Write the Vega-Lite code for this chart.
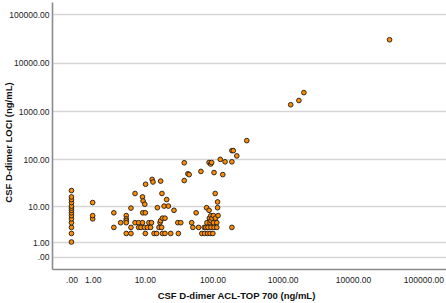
{
  "$schema": "https://vega.github.io/schema/vega-lite/v6.json",
  "width": 394,
  "height": 267,
  "autosize": {"type": "none"},
  "padding": {"left": 52, "top": 2, "right": 0, "bottom": 34},
  "background": "white",
  "config": {"view": {"stroke": null}, "font": "Liberation Sans"},
  "data": {
    "values": [
      {"acl": 0, "loci": 1}, {"acl": 0, "loci": 2}, {"acl": 0, "loci": 3}, {"acl": 0, "loci": 4},
      {"acl": 0, "loci": 5}, {"acl": 0, "loci": 6}, {"acl": 0, "loci": 7}, {"acl": 0, "loci": 8},
      {"acl": 0, "loci": 9}, {"acl": 0, "loci": 10}, {"acl": 0, "loci": 12}, {"acl": 0, "loci": 14},
      {"acl": 0, "loci": 16}, {"acl": 0, "loci": 22},
      {"acl": 1, "loci": 5}, {"acl": 1, "loci": 6}, {"acl": 1, "loci": 12},
      {"acl": 3, "loci": 7}, {"acl": 3, "loci": 3}, {"acl": 4, "loci": 4},
      {"acl": 5, "loci": 6}, {"acl": 5, "loci": 5}, {"acl": 5, "loci": 4.5}, {"acl": 5, "loci": 4}, {"acl": 5, "loci": 2},
      {"acl": 6, "loci": 9}, {"acl": 6, "loci": 3}, {"acl": 6, "loci": 2},
      {"acl": 7, "loci": 19}, {"acl": 7, "loci": 4}, {"acl": 8, "loci": 4}, {"acl": 8, "loci": 3}, {"acl": 8.7, "loci": 3},
      {"acl": 9.2, "loci": 16}, {"acl": 9.4, "loci": 13}, {"acl": 10, "loci": 11}, {"acl": 10.3, "loci": 30},
      {"acl": 9.3, "loci": 7}, {"acl": 10.2, "loci": 7}, {"acl": 9.2, "loci": 4}, {"acl": 9.9, "loci": 3}, {"acl": 10.2, "loci": 2},
      {"acl": 11, "loci": 3}, {"acl": 11.6, "loci": 4}, {"acl": 12.3, "loci": 3}, {"acl": 12.7, "loci": 4},
      {"acl": 13, "loci": 38}, {"acl": 13.4, "loci": 33.5}, {"acl": 13.9, "loci": 2}, {"acl": 15.2, "loci": 2}, {"acl": 15.6, "loci": 9.2},
      {"acl": 16.5, "loci": 3}, {"acl": 17.1, "loci": 4}, {"acl": 17.5, "loci": 4.5}, {"acl": 17.5, "loci": 35}, {"acl": 18.1, "loci": 3},
      {"acl": 18.3, "loci": 19}, {"acl": 18.6, "loci": 5.2}, {"acl": 18.6, "loci": 2},
      {"acl": 19.7, "loci": 10}, {"acl": 20.3, "loci": 5.2}, {"acl": 20.3, "loci": 2}, {"acl": 21.5, "loci": 14}, {"acl": 22.8, "loci": 10},
      {"acl": 24.7, "loci": 2}, {"acl": 27.6, "loci": 8},
      {"acl": 31.4, "loci": 4}, {"acl": 32, "loci": 2}, {"acl": 34.7, "loci": 4}, {"acl": 39, "loci": 36}, {"acl": 39, "loci": 85},
      {"acl": 44, "loci": 50}, {"acl": 46, "loci": 48},
      {"acl": 50, "loci": 4}, {"acl": 52, "loci": 3}, {"acl": 58, "loci": 7}, {"acl": 63, "loci": 3}, {"acl": 68, "loci": 56},
      {"acl": 70, "loci": 2}, {"acl": 76, "loci": 3}, {"acl": 77, "loci": 2}, {"acl": 80, "loci": 3}, {"acl": 82, "loci": 9.2},
      {"acl": 83, "loci": 4}, {"acl": 85, "loci": 2}, {"acl": 86, "loci": 3}, {"acl": 89, "loci": 8}, {"acl": 89, "loci": 86},
      {"acl": 90, "loci": 5.2}, {"acl": 92, "loci": 4}, {"acl": 92, "loci": 2}, {"acl": 94, "loci": 80}, {"acl": 94.5, "loci": 6},
      {"acl": 95, "loci": 3}, {"acl": 95, "loci": 4.5}, {"acl": 97, "loci": 86}, {"acl": 98, "loci": 5.2}, {"acl": 101, "loci": 2},
      {"acl": 103, "loci": 6}, {"acl": 103, "loci": 4}, {"acl": 105, "loci": 3}, {"acl": 105, "loci": 53}, {"acl": 109, "loci": 19},
      {"acl": 110, "loci": 5.2}, {"acl": 115, "loci": 4}, {"acl": 115, "loci": 3}, {"acl": 118, "loci": 12.4}, {"acl": 118, "loci": 9.2},
      {"acl": 120, "loci": 6},
      {"acl": 129, "loci": 100}, {"acl": 140, "loci": 48}, {"acl": 151, "loci": 89}, {"acl": 189, "loci": 89},
      {"acl": 189, "loci": 152}, {"acl": 198, "loci": 152}, {"acl": 222, "loci": 118}, {"acl": 189, "loci": 3}, {"acl": 308, "loci": 245},
      {"acl": 1300, "loci": 1350}, {"acl": 1700, "loci": 1650}, {"acl": 2000, "loci": 2400}, {"acl": 33000, "loci": 29500}
    ]
  },
  "mark": {"type": "circle", "size": 22, "fill": "#FF8C00", "stroke": "#1a1a1a", "strokeWidth": 0.9, "opacity": 1},
  "encoding": {
    "x": {
      "field": "acl", "type": "quantitative",
      "scale": {"type": "symlog", "constant": 1, "domain": [-0.89, 209000], "nice": false, "zero": false},
      "axis": {
        "title": "CSF D-dimer ACL-TOP 700 (ng/mL)",
        "values": [0, 1, 10, 100, 1000, 10000, 100000],
        "labelExpr": "datum.value == 0 ? '.00' : format(datum.value, '.2f')",
        "grid": false, "ticks": false,
        "domainColor": "#8c8c8c", "domainWidth": 1.6,
        "labelFontSize": 8.5, "labelColor": "#222", "labelPadding": 6,
        "titleFontSize": 9.5, "titleFontWeight": "bold", "titleColor": "#111",
        "titleX": 184, "titlePadding": 7
      }
    },
    "y": {
      "field": "loci", "type": "quantitative",
      "scale": {"type": "symlog", "constant": 1, "domain": [-0.8, 177000], "nice": false, "zero": false},
      "axis": {
        "title": "CSF D-dimer LOCI (ng/mL)",
        "values": [0, 1, 10, 100, 1000, 10000, 100000],
        "labelExpr": "datum.value == 0 ? '.00' : format(datum.value, '.2f')",
        "grid": true, "gridColor": "#d6d6d6", "gridWidth": 1.5,
        "ticks": false,
        "domainColor": "#8c8c8c", "domainWidth": 1.6,
        "labelFontSize": 8.5, "labelColor": "#222", "labelPadding": 3,
        "titleFontSize": 9.5, "titleFontWeight": "bold", "titleColor": "#111",
        "titleX": -44, "titleY": 140, "titleBaseline": "middle"
      }
    }
  }
}
